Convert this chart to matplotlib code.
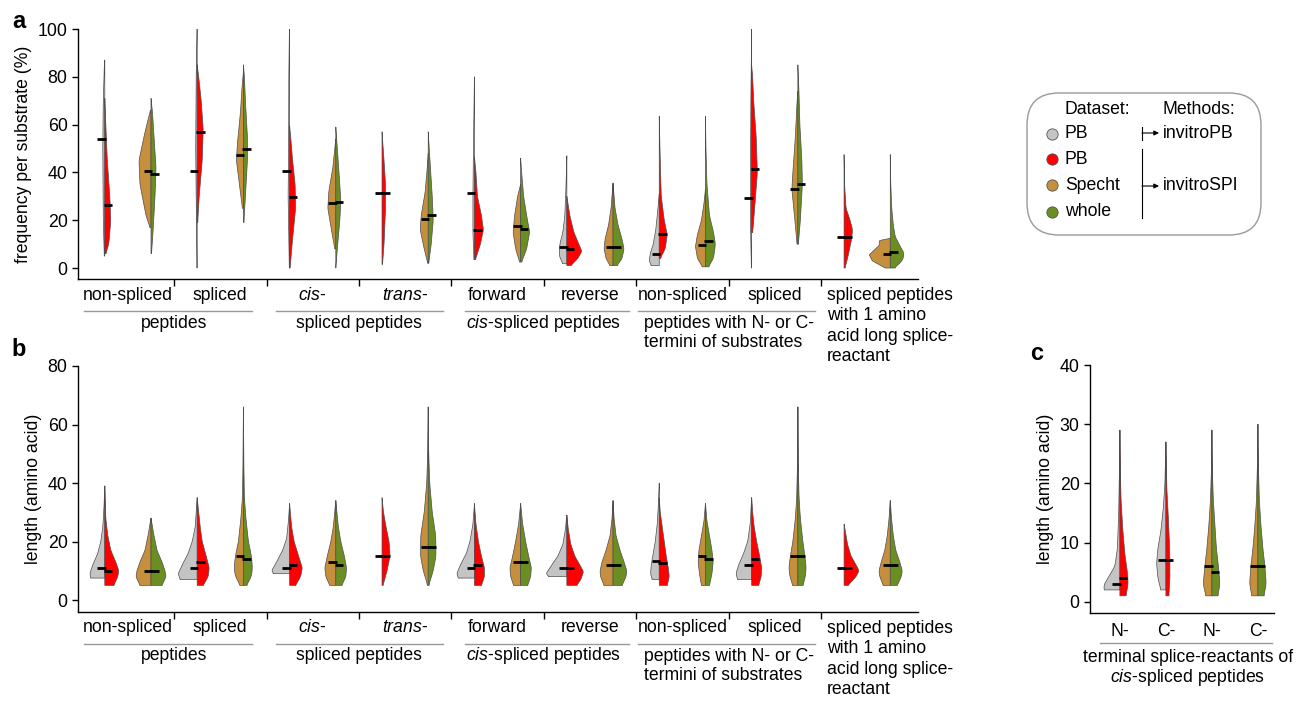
import numpy as np
import matplotlib.pyplot as plt
from matplotlib import transforms
from matplotlib.patches import FancyBboxPatch

plt.rcParams['font.family'] = ['Liberation Sans', 'DejaVu Sans']
plt.rcParams['mathtext.fontset'] = 'custom'
plt.rcParams['mathtext.it'] = 'Liberation Sans:italic'
plt.rcParams['mathtext.rm'] = 'Liberation Sans'

# colours of the four datasets
GREY, RED, TAN, GREEN = '#C4C4C4', '#FF0000', '#C58F3D', '#6B8E23'
EDGE = '#4D4D4D'
FS = 12.7

# ---- data: each half violin is a density profile [(value, density), ...] ----
# panel a: frequency per substrate (%), 9 categories
a_grey = [
    [(5, .5), (20, 1.5), (50, 2), (70, 1.5), (87, .3)],
    [(0, .3), (30, 1), (50, 1.5), (80, 1), (100, .2)],
    [(0, .3), (30, 1.5), (50, 1), (80, .8), (100, .2)],
    None,
    [(3.5, .5), (15, 1.5), (30, 1.5), (50, 1), (80, 0)],
    [(1.8, 4), (5, 7.5), (10, 7), (15, 4), (22, 2), (35, .8), (47, 0)],
    [(1, 8), (3, 10), (6, 9), (10, 6), (16, 3.5), (24, 1.5), (31, 0)],
    [(0, .3), (20, 1.2), (40, 1.2), (70, .8), (100, 0)],
    None]
a_red = [
    [(6, 1), (10, 4), (20, 6), (30, 5), (45, 2.5), (60, 1), (71, 0)],
    [(19, .5), (30, 2), (45, 5), (58, 6), (70, 4), (80, 1.5), (85, 0)],
    [(0, .5), (10, 2.5), (25, 6), (35, 5.5), (45, 3), (55, 1), (59.5, 0)],
    [(1.5, .5), (10, 2), (25, 3.5), (35, 3.5), (45, 2), (57, 0)],
    [(3.5, 1), (10, 6), (16, 9), (22, 7), (30, 3), (40, 1.5), (46.5, 0)],
    [(1, 4), (4, 11), (7, 15), (10, 12), (15, 7), (22, 3), (30, 0)],
    [(4, 1), (8, 6), (14, 8), (20, 5), (30, 2), (45, 1), (63.5, 0)],
    [(14.8, 1), (25, 3), (40, 5.7), (55, 4.5), (70, 2), (80, 1), (84.5, 0)],
    [(0, 1), (5, 4), (12, 7.5), (16, 8.5), (20, 6), (25, 2), (35, .5), (47.5, 0)]]
a_tan = [
    [(17, 1), (22, 5), (35, 11), (45, 12), (55, 7), (62, 3), (66, .5)],
    [(25, 1), (35, 4), (45, 7), (52, 6), (65, 3), (75, 1.5), (82, 0)],
    [(8, 1), (15, 4), (25, 8), (32, 7), (42, 3), (50, 1), (54, 0)],
    [(2, .5), (8, 4), (16, 8), (22, 7), (32, 3), (42, 1), (48, 0)],
    [(2.5, 1), (8, 5), (15, 7.5), (22, 6), (30, 3), (35, 0)],
    [(1, 3), (4, 7), (8, 9), (12, 8), (18, 4.5), (25, 2), (35.5, 0)],
    [(.5, 3), (4, 8), (9, 10), (14, 8), (20, 4), (27, 1.5), (33, 0)],
    [(10, .8), (20, 3), (33, 6), (40, 5), (55, 2.5), (68, 1), (74, 0)],
    [(0, 5), (3, 18), (5.5, 21), (7.5, 16), (9.5, 11), (11.5, 11), (12.4, 0)]]
a_green = [
    [(6, .5), (15, 2), (30, 4), (42, 5), (55, 3), (65, 1.5), (71, 0)],
    [(19, .5), (30, 2), (45, 4), (55, 4), (70, 2), (80, 1), (85, 0)],
    [(0, 0), (8, 1.5), (20, 4), (28, 5), (38, 3.5), (50, 1.5), (59, 0)],
    [(2, .5), (10, 3), (20, 5), (30, 4), (40, 2.5), (50, 1), (57, 0)],
    [(2.5, 1), (8, 6), (15, 9), (22, 6), (30, 3), (40, 1), (46, 0)],
    [(1, 4), (4, 9), (8, 11), (12, 9), (18, 5), (25, 2), (35.5, 0)],
    [(.5, 3), (4, 8), (10, 10), (15, 8), (22, 4), (35, 1.5), (50, .5), (63.5, 0)],
    [(10, .5), (20, 2.5), (35, 4.5), (45, 4), (60, 2), (75, 1), (85, 0)],
    [(0, 4), (3, 12), (6, 14), (9, 10), (13, 5), (18, 3), (25, 1.5), (35, .5), (47.5, 0)]]
a_grey_med = [54.1, 40.6, 40.7, 31.2, 31.4, 8.8, 6.0, 29.3, 13.1]
a_red_med = [26.3, 56.7, 29.6, 31.2, 16.0, 8.1, 14.1, 41.4, 13.1]
a_tan_med = [40.6, 47.4, 27.2, 20.5, 17.6, 8.7, 9.8, 33.2, 5.7]
a_green_med = [39.3, 49.9, 27.6, 22.1, 16.3, 8.7, 11.2, 35.3, 6.5]

# panel b: length (amino acid), 9 categories
b_grey = [
    [(7.5, 14), (9, 15), (12, 12), (16, 7), (20, 4), (25, 2), (32, .8), (39, 0)],
    [(7, 17), (9, 19), (12, 15), (16, 9), (20, 5), (25, 2), (30, 1), (35, 0)],
    [(9, 16), (10, 18), (13, 13), (17, 7), (21, 3), (27, 1.2), (33, 0)],
    None,
    [(7.5, 16), (9, 17.7), (12, 14), (16, 8), (20, 4.5), (26, 1.5), (33, 0)],
    [(8, 18), (9, 20.7), (12, 15), (15, 9), (19, 4), (24, 1.5), (29, 0)],
    [(7, 7), (9, 8.7), (12, 8), (16, 6), (20, 4), (26, 2), (33, .8), (40, 0)],
    [(7, 14), (9, 15.7), (12, 13), (16, 8), (20, 4), (26, 1.5), (35, 0)],
    None]
b_red = [
    [(5, 9), (8, 13), (10, 14), (13, 11), (17, 6), (22, 3), (28, 1), (39, 0)],
    [(5, 6), (8, 11), (11, 12), (15, 9), (20, 5), (25, 3), (30, 1.5), (35, 0)],
    [(5, 6), (8, 11), (11, 12.7), (15, 9), (20, 4.5), (25, 2), (33, 0)],
    [(5, 1), (10, 5), (15, 8), (20, 7), (25, 4), (30, 1.5), (35, 0)],
    [(5, 7), (8, 10), (11, 10), (15, 7), (20, 4), (26, 1.5), (33, 0)],
    [(5, 10), (7, 14), (9.7, 16.7), (12, 13), (15, 8), (19, 4), (24, 1.5), (29, 0)],
    [(5, 8), (8, 10), (11, 9), (15, 7), (20, 5), (25, 3), (30, 1), (35, 0)],
    [(5, 7), (8, 9.5), (11, 10), (15, 8), (20, 5), (25, 2.5), (30, 1), (35, 0)],
    [(5, 4), (8, 12), (10, 15), (12, 12), (15, 7), (19, 3.5), (26, 0)]]
b_tan = [
    [(5, 11), (8, 15), (10, 14), (13, 11), (17, 6), (22, 3), (28, 0)],
    [(5, 3), (8, 8), (11, 9.3), (15, 8), (20, 5), (28, 2.5), (35, 1), (45, .5), (66, 0)],
    [(5, 6), (8, 10), (11, 11), (15, 8.5), (20, 5), (25, 2.5), (34, 0)],
    [(5, .5), (10, 5), (15, 7.7), (22, 7.5), (30, 4), (40, 1.5), (50, .5), (66, 0)],
    [(5, 7), (8, 10), (11, 10.7), (15, 8), (20, 5), (26, 2), (33, 0)],
    [(5, 9), (8, 12.5), (10, 13), (13, 11), (17, 7), (22, 3), (28, 1), (34, 0)],
    [(5, 4), (9, 6), (13, 7.3), (17, 6.5), (22, 4), (27, 1.5), (33, 0)],
    [(5, 5), (8, 8), (11, 9), (15, 7.5), (20, 5), (28, 2.5), (35, 1.2), (45, .5), (66, 0)],
    [(5, 7), (8, 10.5), (10, 11.3), (13, 9), (17, 5.5), (22, 3), (28, 1.2), (34, 0)]]
b_green = [
    [(5, 11), (8, 15), (10, 14), (13, 11), (17, 6), (22, 3), (28, 0)],
    [(5, 3), (8, 8), (11, 9), (15, 8), (20, 5), (28, 2.5), (35, 1), (45, .5), (66, 0)],
    [(5, 6), (8, 10), (11, 10.7), (15, 8.5), (20, 5), (25, 2.5), (34, 0)],
    [(5, .5), (10, 5), (15, 7.7), (22, 7.5), (30, 4), (40, 1.5), (50, .5), (66, 0)],
    [(5, 7), (8, 10), (11, 10.7), (15, 8), (20, 5), (26, 2), (33, 0)],
    [(5, 9), (8, 13), (10, 13.7), (13, 11), (17, 7), (22, 3), (28, 1), (34, 0)],
    [(5, 4), (9, 6.5), (13, 7.7), (17, 6.5), (22, 4), (27, 1.5), (33, 0)],
    [(5, 5), (8, 7.5), (11, 8.3), (15, 7), (20, 5), (28, 2.5), (35, 1.2), (45, .5), (66, 0)],
    [(5, 7), (8, 11), (10, 12), (13, 9.5), (17, 5.5), (22, 3), (28, 1.2), (34, 0)]]
b_grey_med = [11, 11, 11, 15, 11, 11, 13.5, 12, 11]
b_red_med = [10, 13, 12, 15, 12, 11, 12.5, 14, 11]
b_tan_med = [10, 15, 13, 18, 13, 12, 15, 15, 12]
b_green_med = [10, 14, 12, 18, 13, 12, 14, 15, 12]

# panel c: terminal splice-reactant length, N- and C- for invitroPB and invitroSPI
c_grey = [
    [(2, 15), (2.5, 17), (4, 12), (6, 5), (9, 2.5), (15, 1.2), (22, .5), (29, 0)],
    [(2, 5), (4, 8), (6.5, 9.3), (9, 8), (12, 5), (16, 2.5), (20, 1), (27, 0)]]
c_red = [
    [(1, 6), (3, 8.3), (5, 7.5), (8, 5), (12, 3), (17, 1.2), (22, .5), (29, 0)],
    [(1, 3), (4, 4), (7, 4), (10, 3.5), (14, 2.5), (19, 1), (27, 0)]]
c_tan = [
    [(1, 6), (3, 8.7), (6, 7), (9, 5), (13, 3), (17, 1.5), (22, .5), (29, 0)],
    [(1, 6), (3, 8.3), (6, 7), (9, 5), (13, 3), (17, 1.5), (23, .5), (30, 0)]]
c_green = [
    [(1, 6), (3, 8), (6, 6.5), (9, 4.5), (13, 3), (17, 1.5), (22, .5), (29, 0)],
    [(1, 6), (3, 8.3), (6, 7), (9, 5), (13, 3), (17, 1.5), (23, .5), (30, 0)]]
c_grey_med = [3, 7]
c_red_med = [4, 7]
c_tan_med = [6, 6]
c_green_med = [5, 6]

row1 = ['non-spliced', 'spliced', r'$\mathit{cis}$-', r'$\mathit{trans}$-',
        'forward', 'reverse', 'non-spliced', 'spliced']
c_row1 = ['N-', 'C-', 'N-', 'C-']


def half_violin(ax, x, knots, side, color, wscale):
    if knots is None:
        return
    y = np.array([k[0] for k in knots], float)
    w = np.array([k[1] for k in knots], float)
    yy = np.linspace(y[0], y[-1], 300)
    ww = np.interp(yy, y, w)
    k = 15
    ww = np.convolve(np.pad(ww, k // 2, mode='edge'), np.ones(k) / k, mode='valid')
    xs = x + side * ww * wscale
    ax.fill(np.r_[x, xs, x], np.r_[yy[0], yy, yy[-1]], fc=color, ec=EDGE,
            lw=0.5, zorder=2)


def median_mark(ax, x, m, side, wscale):
    if m is None:
        return
    ax.plot([x - side * 1 * wscale, x + side * 7.5 * wscale], [m, m], color='k',
            lw=2.0, solid_capstyle='butt', zorder=3)


def offset_tr(ax, fig, dy_px):
    return (transforms.blended_transform_factory(ax.transData, ax.transAxes)
            + transforms.ScaledTranslation(0, -dy_px / 100, fig.dpi_scale_trans))


def style_axis(ax):
    for s in ['top', 'right']:
        ax.spines[s].set_visible(False)
    for s in ['left', 'bottom']:
        ax.spines[s].set_linewidth(1.0)
    ax.tick_params(axis='y', direction='out', length=4, width=1, labelsize=12.8)
    ax.tick_params(axis='x', direction='out', length=5, width=1, labelbottom=False)


def draw_ab(ax, fig, grey, red, tan, green, gm, rm, tm, nm, ylim, yticks, ylabel):
    ws = 1 / 92.4
    for i in range(9):
        xl, xr = i - 0.25, i + 0.25
        half_violin(ax, xl, grey[i], -1, GREY, ws)
        half_violin(ax, xl, red[i], 1, RED, ws)
        half_violin(ax, xr, tan[i], -1, TAN, ws)
        half_violin(ax, xr, green[i], 1, GREEN, ws)
        median_mark(ax, xl, gm[i], -1, ws)
        median_mark(ax, xl, rm[i], 1, ws)
        median_mark(ax, xr, tm[i], -1, ws)
        median_mark(ax, xr, nm[i], 1, ws)
    style_axis(ax)
    ax.set_xticks(np.arange(0.5, 8, 1))
    ax.set_yticks(yticks)
    ax.set_ylabel(ylabel, fontsize=FS)
    for i, lab in enumerate(row1):
        ax.text(i, 0, lab, transform=offset_tr(ax, fig, 16), ha='center',
                va='center', fontsize=FS)
    for x0, x1 in [(-0.48, 1.34), (1.60, 3.41), (3.65, 5.42), (5.52, 7.44)]:
        ax.plot([x0, x1], [0, 0], transform=offset_tr(ax, fig, 32), color='#999999',
                lw=1, clip_on=False)
    for x, lab in [(0.5, 'peptides'), (2.5, 'spliced peptides'),
                   (4.5, r'$\mathit{cis}$-spliced peptides')]:
        ax.text(x, 0, lab, transform=offset_tr(ax, fig, 44), ha='center',
                va='center', fontsize=FS)
    ax.text(6.5, 0, 'peptides with N- or C-\ntermini of substrates',
            transform=offset_tr(ax, fig, 54), ha='center', va='center',
            multialignment='left', fontsize=FS, linespacing=1.2)
    ax.text(7.565, 0, 'spliced peptides\nwith 1 amino\nacid long splice-\nreactant',
            transform=offset_tr(ax, fig, 47), ha='left', va='center',
            fontsize=FS, linespacing=1.25)
    ax.set_xlim(-0.54, 8.55)
    ax.set_ylim(*ylim)


fig = plt.figure(figsize=(13.12, 7.05), dpi=100)
W, H = 1312, 705

ax_a = fig.add_axes([78 / W, (H - 279) / H, 840 / W, 250 / H])
draw_ab(ax_a, fig, a_grey, a_red, a_tan, a_green, a_grey_med, a_red_med,
        a_tan_med, a_green_med, (-4.6, 100), range(0, 101, 20),
        'frequency per substrate (%)')

ax_b = fig.add_axes([78 / W, (H - 612) / H, 840 / W, 246 / H])
draw_ab(ax_b, fig, b_grey, b_red, b_tan, b_green, b_grey_med, b_red_med,
        b_tan_med, b_green_med, (-4.1, 80), range(0, 81, 20),
        'length (amino acid)')

# panel c
ax_c = fig.add_axes([1090 / W, (H - 613) / H, 184 / W, 248 / H])
wc = 1 / 46
for j in range(2):
    half_violin(ax_c, j, c_grey[j], -1, GREY, wc)
    half_violin(ax_c, j, c_red[j], 1, RED, wc)
    median_mark(ax_c, j, c_grey_med[j], -1, wc)
    median_mark(ax_c, j, c_red_med[j], 1, wc)
    half_violin(ax_c, j + 2, c_tan[j], -1, TAN, wc)
    half_violin(ax_c, j + 2, c_green[j], 1, GREEN, wc)
    median_mark(ax_c, j + 2, c_tan_med[j], -1, wc)
    median_mark(ax_c, j + 2, c_green_med[j], 1, wc)
style_axis(ax_c)
ax_c.set_xticks([])
ax_c.set_yticks(range(0, 41, 10))
ax_c.set_ylabel('length (amino acid)', fontsize=FS)
for j, lab in enumerate(c_row1):
    ax_c.text(j, 0, lab, transform=offset_tr(ax_c, fig, 19), ha='center',
              va='center', fontsize=FS)
ax_c.plot([-0.43, 3.30], [0, 0], transform=offset_tr(ax_c, fig, 30),
          color='#999999', lw=1, clip_on=False)
ax_c.text(1.48, 0, 'terminal splice-reactants of', transform=offset_tr(ax_c, fig, 44),
          ha='center', va='center', fontsize=FS)
ax_c.text(1.48, 0, r'$\mathit{cis}$-spliced peptides', transform=offset_tr(ax_c, fig, 64),
          ha='center', va='center', fontsize=FS)
ax_c.set_xlim(-0.65, 3.35)
ax_c.set_ylim(-1.9, 40)

# overlay in pixel coordinates for panel letters and legend
ov = fig.add_axes([0, 0, 1, 1])
ov.set_xlim(0, W)
ov.set_ylim(H, 0)
ov.axis('off')
for x, y, t in [(19, 21, 'a'), (19, 349, 'b'), (1037, 354, 'c')]:
    ov.text(x, y, t, fontsize=17, fontweight='bold', ha='center', va='center')

ov.add_patch(FancyBboxPatch((1027, 93), 234, 142,
                            boxstyle='round,pad=0,rounding_size=32',
                            ec='#999999', fc='none', lw=1))
ov.text(1065, 110, 'Dataset:', fontsize=FS, ha='left', va='center')
ov.text(1163, 110, 'Methods:', fontsize=FS, ha='left', va='center')
legend_rows = [('PB', GREY, 134), ('PB', RED, 159), ('Specht', TAN, 185),
               ('whole', GREEN, 212)]
for lab, col, y in legend_rows:
    ov.scatter([1052], [y], s=66, c=col, edgecolors='#555555', linewidths=0.6)
    ov.text(1065, y, lab, fontsize=FS, ha='left', va='center')
ov.plot([1142, 1142], [127, 140], color='k', lw=0.8)
ov.plot([1142, 1142], [149, 218], color='k', lw=0.8)
for y, t in [(133, 'invitroPB'), (186, 'invitroSPI')]:
    ov.annotate('', xy=(1159, y), xytext=(1142, y),
                arrowprops=dict(arrowstyle='-|>', lw=0.8, color='k',
                                mutation_scale=7, shrinkA=0, shrinkB=0))
    ov.text(1163, y, t, fontsize=FS, ha='left', va='center')

fig.savefig('out.png', dpi=100)
